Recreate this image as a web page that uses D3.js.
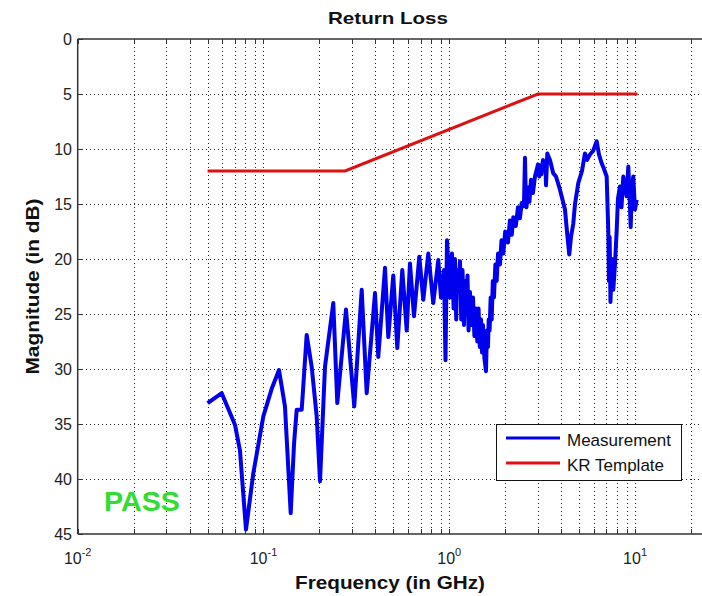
<!DOCTYPE html>
<html><head><meta charset="utf-8">
<script src="https://cdn.jsdelivr.net/npm/d3@7"></script>
<style>html,body{margin:0;padding:0;background:#fff;} svg{display:block;}</style>
</head><body>
<script>
const measFreq = [0.050,0.0596,0.0703,0.0747,0.0805,0.0881,0.0998,0.1107,0.1212,0.1305,
0.1401,0.1460,0.1509,0.1606,0.1708,0.1817,0.1933,0.2015,0.2143,0.2375,
0.2496,0.278,0.308,0.3377,0.3593,0.3983,0.4148,0.4508,0.4696,0.4995,
0.525,0.5585,0.590,0.6143,0.6457,0.6896,0.7245,0.771,0.820,0.8726,
0.902,0.9366,0.954,0.972,
1.009,1.034,1.055,1.073,1.09,1.100,1.12,1.142,1.16,1.178,
1.20,1.215,1.235,1.253,1.27,1.292,1.315,1.342,1.365,1.392,
1.415,1.437,1.46,1.482,1.50,1.518,1.545,1.576,1.595,1.615,1.63,
1.648,1.67,1.691,1.715,1.740,1.77,1.799,1.83,1.875,1.91,
1.953,2.0,2.069,2.12,2.17,2.211,2.28,2.343,2.40,2.453,
2.523,2.555,2.58,2.603,2.662,2.70,2.753,2.82,2.892,
3.002,3.05,3.077,3.13,3.194,3.295,
3.316,3.369,3.483,3.627,3.752,3.943,4.195,4.300,4.424,4.519,
4.648,4.75,4.946,5.178,5.374,5.509,5.716,5.935,6.214,6.393,
6.610,6.80,7.032,7.173,7.235,7.298,7.371,7.509,7.633,7.795,
7.962,8.09,8.294,8.45,8.642,8.825,9.014,9.194,9.33,9.469,
9.623,9.779,9.99,10.2];
const measDb = [33.1,32.2,35.1,37.4,44.6,39.5,34.3,31.8,30.1,33.4,
43.1,36.8,33.7,33.7,26.9,29.8,34.3,40.2,29.8,24.0,
33.1,24.6,33.4,22.8,32.2,23.1,28.9,20.8,27.1,21.5,
28.1,21.0,26.5,20.4,25.2,19.8,23.7,19.5,24.0,20.1,
23.5,21.0,29.2,18.3,
23.5,19.5,24.5,20.0,25.5,21.0,23.0,20.2,25.5,21.0,
26.0,22.0,25.0,21.5,26.5,23.0,26.0,23.5,27.0,24.5,
27.5,24.5,28.0,25.5,28.5,26.0,29.0,30.2,26.5,28.0,25.5,
26.5,23.5,25.5,22.0,23.5,20.5,22.0,19.5,20.5,18.3,
19.5,17.5,18.5,16.5,17.8,16.2,17.0,15.3,16.3,14.9,
15.2,10.8,14.2,15.3,13.5,14.8,12.8,14.0,12.5,
11.4,12.5,11.5,12.3,11.0,11.6,
13.3,10.4,11.0,12.2,12.5,13.7,15.5,17.5,19.6,18.0,
16.8,15.0,13.1,12.0,10.4,11.0,10.5,10.2,9.3,10.5,
11.3,11.8,12.5,17.4,22.0,18.0,23.9,20.0,22.8,20.5,
17.4,14.5,13.4,15.3,12.5,13.5,14.3,11.6,14.0,17.1,
13.5,12.5,15.5,14.6];
const templFreq = [0.05, 0.275, 3.0, 10.3125];
const templDb = [12, 12, 5, 5];
const yTicks = [0,5,10,15,20,25,30,35,40,45];
const xMajorExp = [-2,-1,0,1];
const seriesNames = ["Measurement","KR Template"];
const titleText = "Return Loss";
const xLabelText = "Frequency (in GHz)";
const yLabelText = "Magnitude (in dB)";
const verdictText = "PASS";

const W = 702, H = 596;
const L = 77.7, T = 39, B = 534, R = 702;
const FONT = "'Liberation Sans', Arial, Helvetica, sans-serif";

const svg = d3.select("body").append("svg").attr("width", W).attr("height", H)
  .style("font-family", FONT);
svg.append("rect").attr("width", W).attr("height", H).attr("fill", "#fff");

const x = d3.scaleLog().domain([0.01, 22.92]).range([L, R]);
const y = d3.scaleLinear().domain([0, 45]).range([T, B]);

svg.append("defs").append("clipPath").attr("id","clip")
  .append("rect").attr("x", L).attr("y", T).attr("width", R - L).attr("height", B - T);

// grid
const xt = x.ticks();
const grid = svg.append("g").attr("stroke", "#222").attr("stroke-width", 1)
  .attr("stroke-dasharray", "1,3").attr("shape-rendering","crispEdges");
grid.selectAll("line.vx").data(xt.filter(d => d > 0.0101)).enter().append("line")
  .attr("x1", d => Math.round(x(d)) + 0.5).attr("x2", d => Math.round(x(d)) + 0.5)
  .attr("y1", T).attr("y2", B);
grid.selectAll("line.hy").data(yTicks.filter(d => d > 0 && d < 45)).enter().append("line")
  .attr("x1", L).attr("x2", R).attr("y1", d => Math.round(y(d)) + 0.5).attr("y2", d => Math.round(y(d)) + 0.5);

// ticks (inward)
const tk = svg.append("g").attr("stroke", "#333").attr("stroke-width", 1).attr("shape-rendering","crispEdges");
xt.forEach(d => {
  const px = Math.round(x(d)) + 0.5;
  tk.append("line").attr("x1", px).attr("x2", px).attr("y1", B).attr("y2", B - 5);
  tk.append("line").attr("x1", px).attr("x2", px).attr("y1", T).attr("y2", T + 5);
});
yTicks.forEach(d => {
  const py = Math.round(y(d)) + 0.5;
  tk.append("line").attr("x1", L).attr("x2", L + 5).attr("y1", py).attr("y2", py);
});

// series
const plot = svg.append("g").attr("clip-path", "url(#clip)");
const line = d3.line().x(d => x(d[0])).y(d => y(d[1]));
plot.append("path").datum(templFreq.map((f, i) => [f, templDb[i]]))
  .attr("d", line).attr("fill", "none").attr("stroke", "#dd1111").attr("stroke-width", 3);
plot.append("path").datum(measFreq.map((f, i) => [f, measDb[i]]))
  .attr("d", line).attr("fill", "none").attr("stroke", "#0000ee").attr("stroke-width", 4)
  .attr("stroke-linejoin", "round");

// axes box
const bx = svg.append("g").attr("stroke", "#333").attr("stroke-width", 1.5).attr("fill","none");
bx.append("line").attr("x1", L).attr("x2", R).attr("y1", T).attr("y2", T);
bx.append("line").attr("x1", L).attr("x2", R).attr("y1", B).attr("y2", B);
bx.append("line").attr("x1", L).attr("x2", L).attr("y1", T).attr("y2", B);

// y tick labels
svg.append("g").selectAll("text").data(yTicks).enter().append("text")
  .attr("x", 72).attr("y", d => y(d) + 6).attr("text-anchor", "end")
  .attr("font-size", 16).attr("fill", "#222").text(d => d);

// x tick labels
xMajorExp.forEach(e => {
  const t = svg.append("text").attr("x", x(Math.pow(10, e))).attr("y", 564)
    .attr("text-anchor", "middle").attr("fill", "#222").attr("font-size", 16);
  t.append("tspan").text("10");
  t.append("tspan").attr("dy", -8).attr("font-size", 11).text(String(e));
});

// title and labels
svg.append("text").attr("x", 388).attr("y", 24).attr("text-anchor", "middle")
  .attr("font-weight", "bold").attr("font-size", 17).attr("fill", "#111")
  .attr("textLength", 120).attr("lengthAdjust","spacingAndGlyphs").text(titleText);
svg.append("text").attr("x", 390).attr("y", 589).attr("text-anchor", "middle")
  .attr("font-weight", "bold").attr("font-size", 18).attr("fill", "#111")
  .attr("textLength", 190).attr("lengthAdjust","spacingAndGlyphs").text(xLabelText);
svg.append("text").attr("transform", "translate(39," + ((T + B) / 2) + ") rotate(-90)")
  .attr("text-anchor", "middle").attr("font-weight", "bold").attr("font-size", 18).attr("fill", "#111")
  .attr("textLength", 176).attr("lengthAdjust","spacingAndGlyphs").text(yLabelText);

// PASS
svg.append("text").attr("x", 104).attr("y", 511).attr("font-weight", "bold")
  .attr("font-size", 27).attr("fill", "#30dd30")
  .attr("textLength", 76).attr("lengthAdjust","spacingAndGlyphs").text(verdictText);

// legend
const lg = svg.append("g");
lg.append("rect").attr("x", 496.5).attr("y", 424.5).attr("width", 185).attr("height", 56)
  .attr("fill", "#fff").attr("stroke", "#111").attr("stroke-width", 1);
const lcolors = ["#0000ee", "#dd1111"];
seriesNames.forEach((n, i) => {
  const cy = 438 + i * 25;
  lg.append("line").attr("x1", 506).attr("x2", 560).attr("y1", cy).attr("y2", cy)
    .attr("stroke", lcolors[i]).attr("stroke-width", 3);
  lg.append("text").attr("x", 567).attr("y", cy + 8).attr("font-size", 17).attr("fill", "#111").text(n);
});
</script>
</body></html>
